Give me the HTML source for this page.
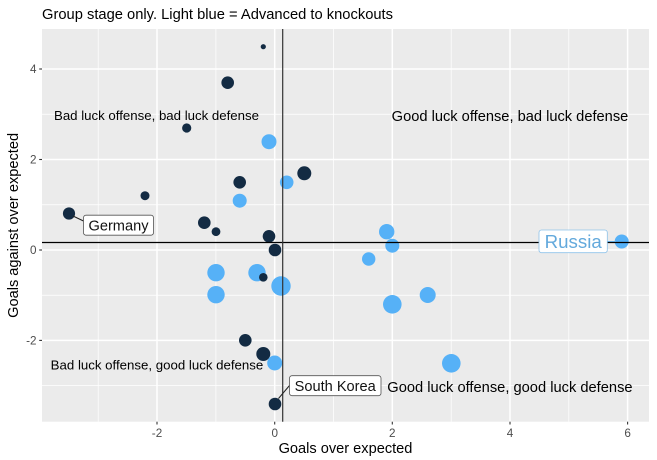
<!DOCTYPE html>
<html><head><meta charset="utf-8"><style>
html,body{margin:0;padding:0;background:#fff;}
svg{display:block;}
text{font-family:"Liberation Sans",Arial,sans-serif;}
</style></head><body>
<svg width="657" height="460" viewBox="0 0 657 460" xmlns="http://www.w3.org/2000/svg">
<rect x="0" y="0" width="657" height="460" fill="#fff"/>
<text x="42" y="19" font-size="14.6" fill="#000" textLength="351" lengthAdjust="spacingAndGlyphs">Group stage only. Light blue = Advanced to knockouts</text>
<rect x="42" y="29" width="607" height="392.7" fill="#EBEBEB"/>
<g stroke="#fff" stroke-width="0.75">
<line x1="98.2" y1="29" x2="98.2" y2="421.7"/>
<line x1="215.9" y1="29" x2="215.9" y2="421.7"/>
<line x1="333.5" y1="29" x2="333.5" y2="421.7"/>
<line x1="451.2" y1="29" x2="451.2" y2="421.7"/>
<line x1="568.8" y1="29" x2="568.8" y2="421.7"/>
<line x1="42" y1="114.2" x2="649" y2="114.2"/>
<line x1="42" y1="204.8" x2="649" y2="204.8"/>
<line x1="42" y1="295.2" x2="649" y2="295.2"/>
<line x1="42" y1="385.6" x2="649" y2="385.6"/>
</g>
<g stroke="#fff" stroke-width="1.5">
<line x1="157" y1="29" x2="157" y2="421.7"/>
<line x1="274.7" y1="29" x2="274.7" y2="421.7"/>
<line x1="392.3" y1="29" x2="392.3" y2="421.7"/>
<line x1="510" y1="29" x2="510" y2="421.7"/>
<line x1="627.6" y1="29" x2="627.6" y2="421.7"/>
<line x1="42" y1="69" x2="649" y2="69"/>
<line x1="42" y1="159.5" x2="649" y2="159.5"/>
<line x1="42" y1="250" x2="649" y2="250"/>
<line x1="42" y1="340.4" x2="649" y2="340.4"/>
</g>
<!-- points -->
<g fill="#132B43">
<circle cx="263.3" cy="46.7" r="2.6"/>
<circle cx="227.7" cy="82.7" r="6.3"/>
<circle cx="186.7" cy="128" r="4.6"/>
<circle cx="304.3" cy="173.3" r="7"/>
<circle cx="239.7" cy="182.3" r="6.3"/>
<circle cx="145" cy="195.7" r="4.5"/>
<circle cx="69" cy="213.5" r="6.1"/>
<circle cx="204.3" cy="222.7" r="6.3"/>
<circle cx="216" cy="231.7" r="4.4"/>
<circle cx="269" cy="236.3" r="6.3"/>
<circle cx="275" cy="250" r="6.3"/>
<circle cx="245.3" cy="340.3" r="6.3"/>
<circle cx="263.3" cy="354" r="7"/>
<circle cx="275" cy="404" r="6.3"/>
</g>
<g fill="#56B1F7">
<circle cx="269" cy="141.7" r="7.5"/>
<circle cx="286.7" cy="182.3" r="6.8"/>
<circle cx="239.7" cy="200.7" r="7"/>
<circle cx="216" cy="272.7" r="8.7"/>
<circle cx="257" cy="272.7" r="8.7"/>
<circle cx="281" cy="286" r="9.7"/>
<circle cx="216" cy="294.7" r="8.7"/>
<circle cx="274.7" cy="363" r="7.5"/>
<circle cx="386.7" cy="231.7" r="7.7"/>
<circle cx="392.3" cy="245.7" r="7"/>
<circle cx="368.7" cy="259" r="6.7"/>
<circle cx="427.7" cy="295" r="8"/>
<circle cx="392.3" cy="304.3" r="9.3"/>
<circle cx="451.3" cy="363.3" r="9.3"/>
<circle cx="621.7" cy="241.5" r="7"/>
</g>
<g fill="#132B43">
<circle cx="263.3" cy="277.3" r="4.3"/>
</g>
<!-- reference lines -->
<line x1="42" y1="242.5" x2="649" y2="242.5" stroke="#000" stroke-width="1.2"/>
<line x1="282.7" y1="29" x2="282.7" y2="421.7" stroke="#333" stroke-width="1.2"/>
<!-- quadrant labels -->
<text x="54" y="120" font-size="13.2" fill="#000" textLength="205" lengthAdjust="spacingAndGlyphs">Bad luck offense, bad luck defense</text>
<text x="391.7" y="121" font-size="14.6" fill="#000" textLength="236.6" lengthAdjust="spacingAndGlyphs">Good luck offense, bad luck defense</text>
<text x="50.7" y="369.5" font-size="13.2" fill="#000" textLength="212.6" lengthAdjust="spacingAndGlyphs">Bad luck offense, good luck defense</text>
<text x="387.3" y="392" font-size="14.6" fill="#000" textLength="245.3" lengthAdjust="spacingAndGlyphs">Good luck offense, good luck defense</text>
<!-- labels -->
<line x1="73" y1="216" x2="83.5" y2="221" stroke="#222" stroke-width="1"/>
<rect x="83.5" y="215.2" width="70" height="20" rx="2.5" fill="#fff" stroke="#555" stroke-width="0.8"/>
<text x="118.5" y="230.5" font-size="14.6" fill="#111" text-anchor="middle">Germany</text>
<line x1="278.5" y1="398.5" x2="289.5" y2="385.5" stroke="#222" stroke-width="1"/>
<rect x="289.5" y="375.7" width="91.5" height="20" rx="2.5" fill="#fff" stroke="#555" stroke-width="0.8"/>
<text x="335.2" y="391" font-size="14.6" fill="#111" text-anchor="middle">South Korea</text>
<line x1="607.3" y1="241.5" x2="616" y2="241.5" stroke="#63A9DC" stroke-width="1"/>
<rect x="539" y="230" width="68.3" height="22.7" rx="2.5" fill="#fff" stroke="#8FC3EA" stroke-width="0.8"/>
<text x="573.2" y="248" font-size="18.7" fill="#63A9DC" text-anchor="middle">Russia</text>
<!-- axes ticks -->
<g stroke="#333" stroke-width="1.1">
<line x1="157" y1="421.7" x2="157" y2="424.5"/>
<line x1="274.7" y1="421.7" x2="274.7" y2="424.5"/>
<line x1="392.3" y1="421.7" x2="392.3" y2="424.5"/>
<line x1="510" y1="421.7" x2="510" y2="424.5"/>
<line x1="627.6" y1="421.7" x2="627.6" y2="424.5"/>
<line x1="39.2" y1="69" x2="42" y2="69"/>
<line x1="39.2" y1="159.5" x2="42" y2="159.5"/>
<line x1="39.2" y1="250" x2="42" y2="250"/>
<line x1="39.2" y1="340.4" x2="42" y2="340.4"/>
</g>
<g font-size="11.7" fill="#4D4D4D" text-anchor="middle">
<text x="157" y="437.2">-2</text>
<text x="274.7" y="437.2">0</text>
<text x="392.3" y="437.2">2</text>
<text x="510" y="437.2">4</text>
<text x="627.6" y="437.2">6</text>
</g>
<g font-size="11.7" fill="#4D4D4D" text-anchor="end">
<text x="36.5" y="73.2">4</text>
<text x="36.5" y="163.7">2</text>
<text x="36.5" y="254.2">0</text>
<text x="36.5" y="344.6">-2</text>
</g>
<text x="345.5" y="453" font-size="14.6" fill="#000" text-anchor="middle">Goals over expected</text>
<text transform="translate(17.8,225.4) rotate(-90)" font-size="14.6" fill="#000" text-anchor="middle">Goals against over expected</text>
</svg>
</body></html>
